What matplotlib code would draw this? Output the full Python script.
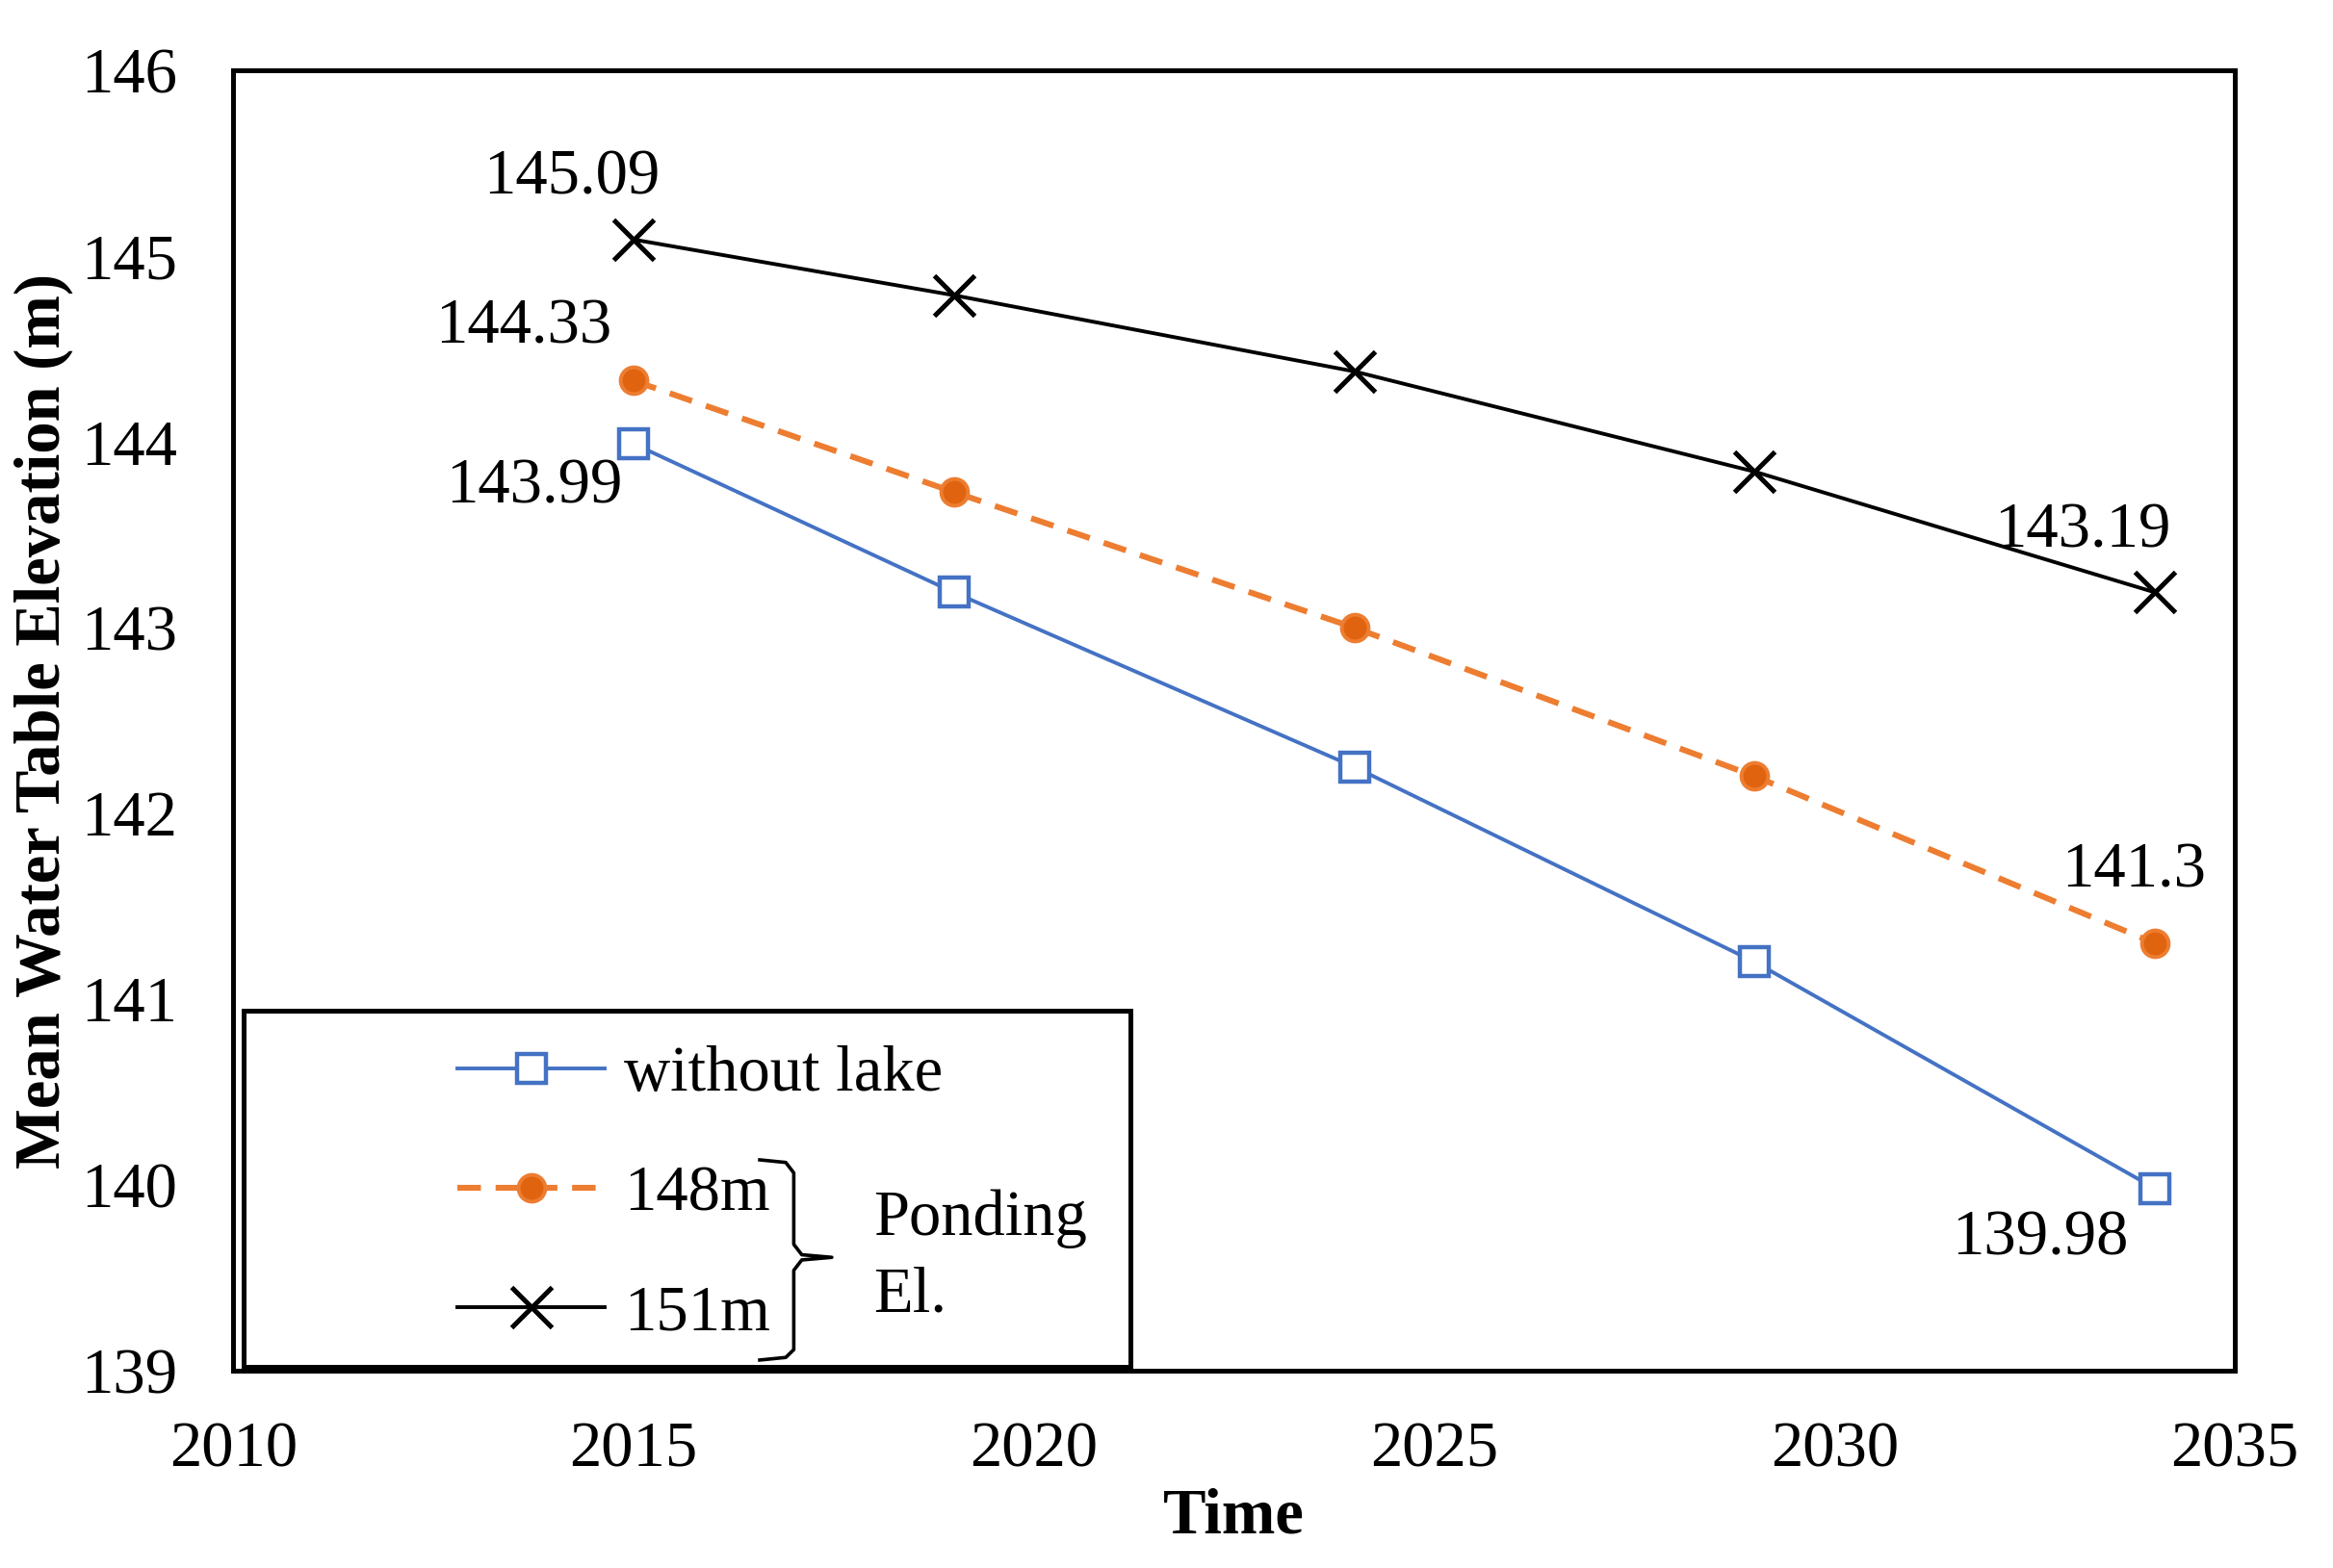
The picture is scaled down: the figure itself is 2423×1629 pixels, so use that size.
import matplotlib
matplotlib.use('Agg')
import matplotlib.pyplot as plt
from matplotlib.lines import Line2D
from matplotlib.patches import Rectangle

years = [2015, 2019, 2024, 2029, 2034]
without_lake = [143.99, 143.19, 142.25, 141.20, 139.98]
el_148 = [144.33, 143.73, 143.00, 142.20, 141.30]
el_151 = [145.09, 144.79, 144.38, 143.84, 143.19]

x_ticks = [2010, 2015, 2020, 2025, 2030, 2035]
y_ticks = [139, 140, 141, 142, 143, 144, 145, 146]

plt.rcParams['font.family'] = ['Liberation Serif', 'DejaVu Serif']
fs = 24

fig = plt.figure(figsize=(12.115, 8.145), dpi=200)
ax = fig.add_axes([0.100, 0.126, 0.858, 0.829])

blue = '#4472C4'
orange = '#ED7D31'
orange_face = '#E0640F'

ax.plot(years, without_lake, color=blue, lw=1.4, marker='s', ms=11,
        mfc='white', mec=blue, mew=1.6, zorder=3)
ax.plot(years, el_148, color=orange, lw=2.2, ls=(0, (4, 2.5)), marker='o', ms=10,
        mfc=orange_face, mec=orange, mew=1.4, zorder=3)
ax.plot(years, el_151, color='black', lw=1.4, marker='x', ms=15,
        mew=1.8, zorder=4)

ax.set_xlim(2010, 2035)
ax.set_ylim(139, 146)
ax.set_xticks(x_ticks)
ax.set_yticks(y_ticks)
ax.tick_params(length=0, labelsize=fs)
ax.tick_params(axis='x', pad=19)
ax.tick_params(axis='y', pad=21)
for s in ax.spines.values():
    s.set_linewidth(1.8)

ax.set_xlabel('Time', fontsize=fs, fontweight='bold', labelpad=3)
ax.set_ylabel('Mean Water Table Elevation (m)', fontsize=fs, fontweight='bold', labelpad=3)

# value labels
notes = [
    (years[0], el_151[0], (-23, 23)),
    (years[0], el_148[0], (-41, 20)),
    (years[0], without_lake[0], (-37, -16)),
    (years[-1], el_151[-1], (-27, 23)),
    (years[-1], el_148[-1], (-8, 27)),
    (years[-1], without_lake[-1], (-43, -19)),
]
for xv, yv, off in notes:
    ax.annotate(f'{yv:g}', (xv, yv), xytext=off, textcoords='offset points',
                ha='center', va='center', fontsize=fs)

# legend box
ax.add_patch(Rectangle((0.005, 0.003), 0.443, 0.274, transform=ax.transAxes,
                       fill=True, fc='white', ec='black', lw=1.8, zorder=5))
handles = [
    Line2D([], [], color=blue, lw=1.4, marker='s', ms=11, mfc='white', mec=blue, mew=1.6),
    Line2D([], [], color=orange, lw=2.2, ls=(0, (4, 2.5)), marker='o', ms=10,
           mfc=orange_face, mec=orange, mew=1.4),
    Line2D([], [], color='black', lw=1.4, marker='x', ms=15, mew=1.8),
]
labels = ['without lake', '148m', '151m']
leg = ax.legend(handles, labels, loc='upper left', bbox_to_anchor=(0.112, 0.250),
                frameon=False, fontsize=fs, handlelength=2.3, handletextpad=0.3,
                labelspacing=0.95, borderpad=0, borderaxespad=0)
leg.set_zorder(6)

# brace
bx = [0.263, 0.276, 0.280, 0.280, 0.284, 0.299, 0.284, 0.280, 0.280, 0.276, 0.263]
by = [0.162, 0.160, 0.152, 0.097, 0.089, 0.087, 0.085, 0.077, 0.016, 0.010, 0.008]
ax.plot(bx, by, color='black', lw=1.3, transform=ax.transAxes, zorder=7, clip_on=False)
ax.text(0.320, 0.087, 'Ponding\nEl.', transform=ax.transAxes, fontsize=fs,
        ha='left', va='center', linespacing=1.4, zorder=7)

fig.savefig('out.png', dpi=200)
